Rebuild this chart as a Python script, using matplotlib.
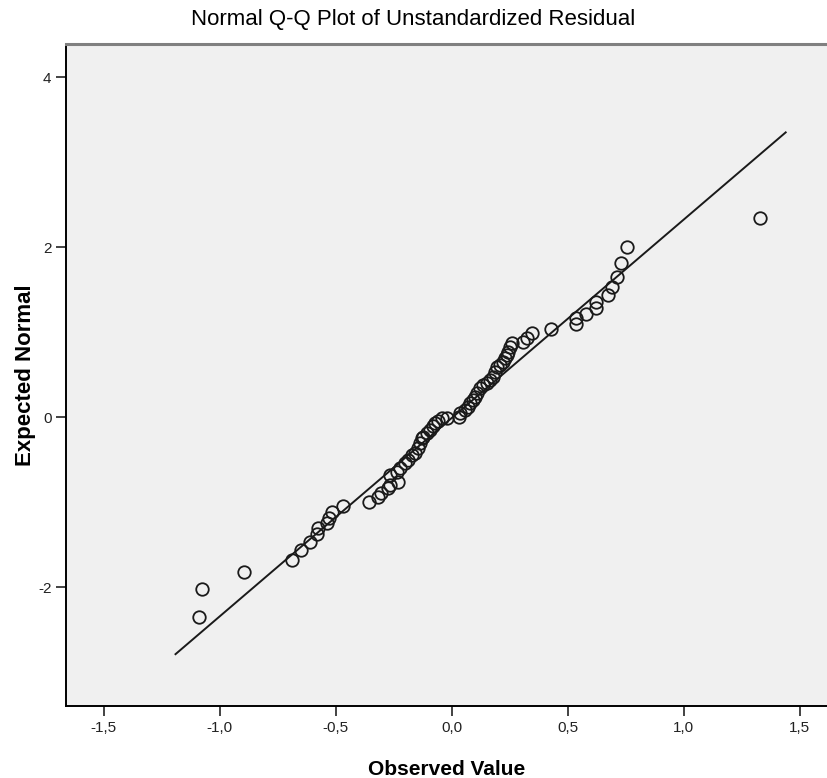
import numpy as np
import matplotlib
matplotlib.use("Agg")
import matplotlib.pyplot as plt

plt.rcParams['font.family'] = ['Liberation Sans', 'DejaVu Sans']

# observed residuals and their expected normal values
observed = [-1.088, -1.076, -0.895, -0.688, -0.647, -0.611, -0.579, -0.578, -0.536, -0.529,
            -0.517, -0.467, -0.356, -0.316, -0.306, -0.276, -0.266, -0.230,
            -0.266, -0.237, -0.223, -0.201, -0.187, -0.172, -0.158, -0.144, -0.137, -0.129,
            -0.122, -0.108, -0.094, -0.079, -0.072, -0.058, -0.043, -0.022, 0.031, 0.036,
            0.057, 0.072, 0.079, 0.091, 0.100, 0.108, 0.122, 0.136, 0.151, 0.165,
            0.179, 0.187, 0.194, 0.208, 0.223, 0.230, 0.237, 0.244, 0.251, 0.259,
            0.309, 0.323, 0.345, 0.427,
            0.536, 0.536, 0.579, 0.621, 0.621, 0.675, 0.690, 0.711, 0.728, 0.754, 1.329]
expected = [-2.356, -2.024, -1.824, -1.686, -1.568, -1.471, -1.380, -1.302, -1.244, -1.185,
            -1.114, -1.047, -1.000, -0.938, -0.898, -0.839, -0.800, -0.761,
            -0.682, -0.643, -0.604, -0.545, -0.506, -0.447, -0.427, -0.368, -0.309, -0.251,
            -0.232, -0.192, -0.153, -0.106, -0.074, -0.043, -0.016, -0.016, 0.004, 0.043,
            0.082, 0.122, 0.161, 0.200, 0.239, 0.278, 0.337, 0.376, 0.396, 0.435,
            0.474, 0.533, 0.592, 0.612, 0.651, 0.690, 0.729, 0.768, 0.827, 0.867,
            0.880, 0.926, 0.985, 1.032,
            1.094, 1.161, 1.208, 1.279, 1.356, 1.435, 1.533, 1.651, 1.808, 2.004, 2.338]

# reference line end points
line_x = [-1.19, 1.44]
line_y = [-2.79, 3.35]

xticks = [-1.5, -1.0, -0.5, 0.0, 0.5, 1.0, 1.5]
xtick_labels = ['-1,5', '-1,0', '-0,5', '0,0', '0,5', '1,0', '1,5']
yticks = [-2, 0, 2, 4]
ytick_labels = ['-2', '0', '2', '4']

fig = plt.figure(figsize=(8.27, 7.78), dpi=100)
ax = fig.add_axes([66/827, 1-706/778, 761/827, 662/778])
ax.set_facecolor('#f0f0f0')

ax.plot(line_x, line_y, color='#1a1a1a', lw=1.4)
ax.plot(observed, expected, 'o', mfc='none', mec='#1a1a1a', ms=9, mew=1.3)

ax.set_xlim(-1.662, 1.618)
ax.set_ylim(-3.40, 4.39)
ax.set_xticks(xticks)
ax.set_xticklabels(xtick_labels)
ax.set_yticks(yticks)
ax.set_yticklabels(ytick_labels)
ax.tick_params(direction='out', length=7, width=1.2, labelsize=11, colors='#222222')

ax.spines['right'].set_visible(False)
ax.spines['top'].set_color('#808080')
ax.spines['top'].set_linewidth(2.2)
ax.spines['left'].set_linewidth(1.4)
ax.spines['bottom'].set_linewidth(1.4)

ax.set_xlabel('Observed Value', fontsize=15, fontweight='bold', labelpad=18)
ax.set_ylabel('Expected Normal', fontsize=16, fontweight='bold')
ax.yaxis.set_label_coords(-0.039, 0.5)
fig.text(0.5, 1-20/778, 'Normal Q-Q Plot of Unstandardized Residual',
         ha='center', va='center', fontsize=16)

fig.savefig('out.png', dpi=100)
